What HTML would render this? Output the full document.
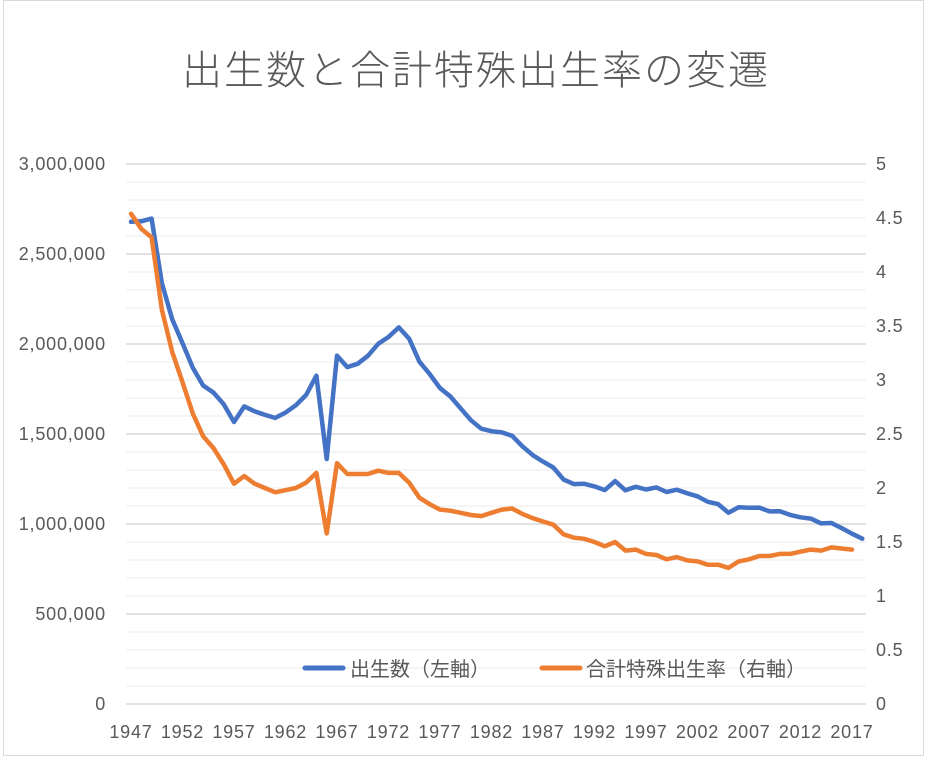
<!DOCTYPE html>
<html><head><meta charset="utf-8"><style>
html,body{margin:0;padding:0;background:#fff}
body{width:927px;height:758px;overflow:hidden}
svg text{font-family:"Liberation Sans","Noto Sans CJK JP",sans-serif;fill:#595959}
</style></head><body>
<svg id="s" width="927" height="758" xmlns="http://www.w3.org/2000/svg">
<rect x="3.5" y="0.5" width="920" height="755" fill="#fff" stroke="#d9d9d9"/>
<text x="476" y="84" text-anchor="middle" font-size="40" font-weight="300" letter-spacing="2" style="font-family:'Noto Sans CJK JP',sans-serif">出生数と合計特殊出生率の変遷</text>
<g id="grid"></g>
<g id="lab" font-size="18" letter-spacing="0.8"></g>
<path id="b" fill="none" stroke="#4472c4" stroke-width="4.5" stroke-linejoin="round" stroke-linecap="round"/>
<path id="o" fill="none" stroke="#ed7d31" stroke-width="4.5" stroke-linejoin="round" stroke-linecap="round"/>
<line x1="305" y1="668" x2="343" y2="668" stroke="#4472c4" stroke-width="5" stroke-linecap="round"/>
<text x="350" y="676" font-size="20" style="font-family:'Noto Sans CJK JP',sans-serif">出生数（左軸）</text>
<line x1="542" y1="668" x2="580" y2="668" stroke="#ed7d31" stroke-width="5" stroke-linecap="round"/>
<text x="586" y="676" font-size="20" style="font-family:'Noto Sans CJK JP',sans-serif">合計特殊出生率（右軸）</text>
</svg>
<script>
var B=[2678792,2681624,2696638,2337507,2137689,2005162,1868040,1769580,1730692,1665278,1566713,1653469,1626088,1606041,1589372,1618616,1659521,1716761,1823697,1360974,1935647,1871839,1889815,1934239,2000973,2038682,2091983,2029989,1901440,1832617,1755100,1708643,1642580,1576889,1529455,1515392,1508687,1489780,1431577,1382946,1346658,1314006,1246802,1221585,1223245,1208989,1188282,1238328,1187064,1206555,1191665,1203147,1177669,1190547,1170662,1153855,1123610,1110721,1062530,1092674,1089818,1091156,1070035,1071304,1050806,1037231,1029816,1003539,1005677,976978,946065,918400];
var T=[4.54,4.40,4.32,3.65,3.26,2.98,2.69,2.48,2.37,2.22,2.04,2.11,2.04,2.00,1.96,1.98,2.00,2.05,2.14,1.58,2.23,2.13,2.13,2.13,2.16,2.14,2.14,2.05,1.91,1.85,1.80,1.79,1.77,1.75,1.74,1.77,1.80,1.81,1.76,1.72,1.69,1.66,1.57,1.54,1.53,1.50,1.46,1.50,1.42,1.43,1.39,1.38,1.34,1.36,1.33,1.32,1.29,1.29,1.26,1.32,1.34,1.37,1.37,1.39,1.39,1.41,1.43,1.42,1.45,1.44,1.43];
function X(i){return 131+i*10.3}
var g='',l='';
for(var k=0;k<=30;k++){var y=704-k*18;g+='<line x1="126" x2="866" y1="'+y+'" y2="'+y+'" stroke="'+(k%5==0?'#d9d9d9':'#efefef')+'" stroke-width="'+(k%5==0?1.5:1.2)+'"/>';}
var L=['0','500,000','1,000,000','1,500,000','2,000,000','2,500,000','3,000,000'],R=['0','0.5','1','1.5','2','2.5','3','3.5','4','4.5','5'];
for(var k=0;k<7;k++)l+='<text x="106" y="'+(710-k*90)+'" text-anchor="end">'+L[k]+'</text>';
for(var k=0;k<11;k++)l+='<text x="876" y="'+(710-k*54)+'">'+R[k]+'</text>';
for(var yr=1947;yr<=2017;yr+=5)l+='<text x="'+X(yr-1947)+'" y="738" text-anchor="middle">'+yr+'</text>';
document.getElementById('grid').innerHTML=g;document.getElementById('lab').innerHTML=l;
var pb='',po='';
B.forEach(function(v,i){pb+=(i?'L':'M')+X(i).toFixed(1)+' '+(704-v*0.00018).toFixed(1)});
T.forEach(function(v,i){po+=(i?'L':'M')+X(i).toFixed(1)+' '+(704-v*108).toFixed(1)});
document.getElementById('b').setAttribute('d',pb);document.getElementById('o').setAttribute('d',po);
</script>
</body></html>
